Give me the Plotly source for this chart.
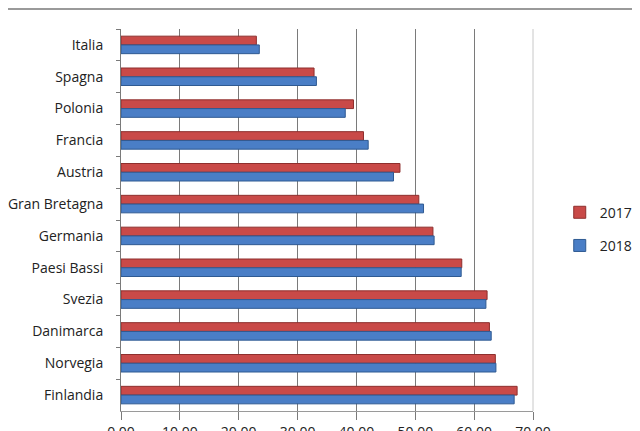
import plotly.graph_objects as go

paesi = ["Italia", "Spagna", "Polonia", "Francia", "Austria", "Gran Bretagna",
         "Germania", "Paesi Bassi", "Svezia", "Danimarca", "Norvegia", "Finlandia"]
valori_2017 = [23.0, 32.8, 39.5, 41.2, 47.4, 50.6, 53.0, 57.9, 62.2, 62.6, 63.6, 67.3]
valori_2018 = [23.5, 33.2, 38.1, 42.0, 46.3, 51.4, 53.2, 57.8, 62.0, 62.9, 63.7, 66.8]
tick_x = [0, 10, 20, 30, 40, 50, 60, 70]

fig = go.Figure()

fig.add_trace(go.Bar(
    y=paesi,
    x=valori_2017,
    orientation='h',
    name='2017',
    legendgroup='a',
    marker=dict(color='#C94A48', line=dict(color='#8E2F2D', width=1)),
))
fig.add_trace(go.Bar(
    y=paesi,
    x=valori_2018,
    orientation='h',
    name='2018',
    legendgroup='b',
    marker=dict(color='#4A7EC6', line=dict(color='#2F5A92', width=1)),
))

# la pagina ha 8px di margine nel body: figura 632x423 per riempire 640x431
fig.update_layout(
    width=632,
    height=423,
    margin=dict(l=113, r=107, t=21, b=20),
    paper_bgcolor='white',
    plot_bgcolor='white',
    barmode='group',
    bargap=0.45,
    bargroupgap=0,
    font=dict(family='Open Sans', size=14, color='#222222'),
    legend=dict(
        xref='container',
        x=0.873, y=0.476, xanchor='left', yanchor='middle',
        font=dict(size=14, color='#222222'),
        tracegroupgap=12,
        itemwidth=30,
    ),
    xaxis=dict(
        range=[0, 70],
        tickvals=tick_x,
        tickformat='.2f',
        showgrid=True,
        gridcolor='#7a7a7a',
        gridwidth=1,
        zeroline=False,
        showline=True,
        linecolor='#9a9a9a',
        ticks='outside',
        ticklen=8,
        tickcolor='#7a7a7a',
        automargin=False,
    ),
    yaxis=dict(
        autorange='reversed',
        showgrid=False,
        showline=True,
        linecolor='#7a7a7a',
        ticks='outside',
        tickson='boundaries',
        ticklen=4,
        tickcolor='#7a7a7a',
        ticklabelstandoff=14,
        automargin=False,
    ),
    shapes=[
        dict(type='line', xref='paper', yref='paper',
             x0=-0.28, x1=1.27, y0=1.0524, y1=1.0524,
             line=dict(color='#9a9a9a', width=2)),
        dict(type='line', xref='paper', yref='paper',
             x0=1, x1=1, y0=0, y1=1,
             line=dict(color='#c8c8c8', width=1)),
    ],
)

fig.write_html("out.html")
